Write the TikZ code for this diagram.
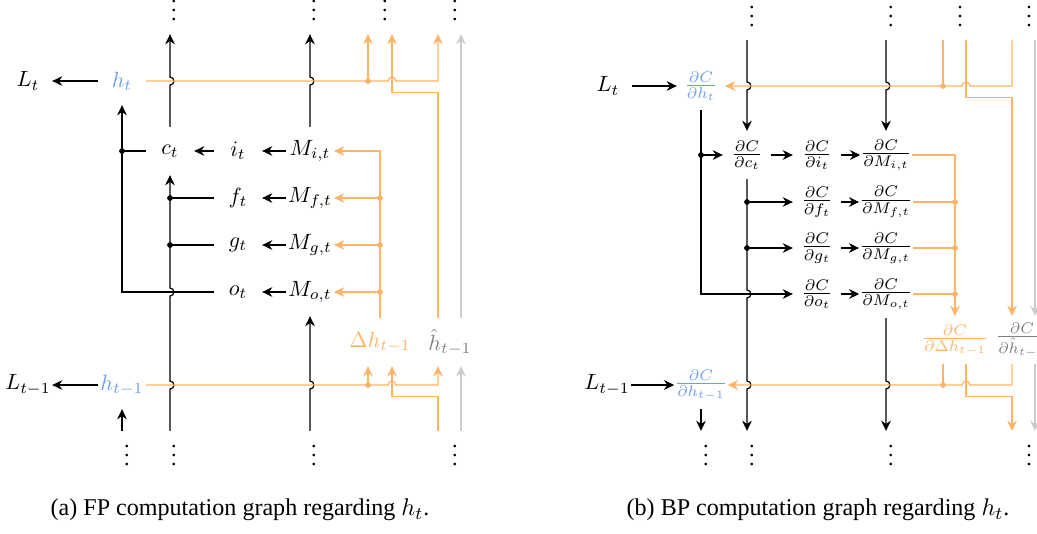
\documentclass[tikz,border=0pt]{standalone}
\usepackage{fontspec}
\setmainfont{Liberation Serif}
\usepackage{amsmath}
\usepackage{tikz}
\usetikzlibrary{arrows.meta, calc}
\definecolor{Orng}{HTML}{FFB366}
\definecolor{Blu}{HTML}{6D9EEB}
\definecolor{GrayLine}{HTML}{CCCCCC}
\definecolor{GrayText}{HTML}{808080}
\tikzset{
  cell/.style={minimum size=21.5pt, inner sep=0pt},
  vdts/.style={text height=9.1pt, text depth=0pt, minimum size=21.5pt, inner sep=0pt},
  jdot/.style={circle, fill, inner sep=0pt, minimum size=2.6pt},
  odot/.style={jdot, Orng},
  arr/.style={-{Stealth[length=4.6pt,width=4.4pt]}, line width=0.55pt},
  bLine/.style={line width=0.55pt},
  oLine/.style={line width=0.55pt, Orng},
  oArr/.style={arr, Orng},
  gArr/.style={arr, GrayLine},
  captxt/.style={font=\fontsize{10.9}{13}\selectfont},
  hopup/.style={insert path={-- ($(#1)+(0,4)$) arc[start angle=-90,end angle=90,radius=1.8pt]}},
  hopdn/.style={insert path={-- ($(#1)+(0,-4)$) arc[start angle=90,end angle=-90,radius=1.8pt]}},
  hopr/.style={insert path={-- ($(#1)+(-4,0)$) arc[start angle=180,end angle=0,radius=1.8pt]}},
  hopl/.style={insert path={-- ($(#1)+(4,0)$) arc[start angle=0,end angle=180,radius=1.8pt]}},
}

\begin{document}
\begin{tikzpicture}[x=0.453pt, y=-0.453pt]
\useasboundingbox (0,0) rectangle (1037,533);
\clip (0,0) rectangle (1037,533);

% ---------------- (a) FP graph ----------------
\node[cell] (Lt) at (28,81) {$L_t$};
\node[cell, text=Blu] (ht) at (122,81) {$h_t$};
\node[cell] (ct) at (170,151) {$c_t$};
\node[cell] (it) at (238,151) {$i_t$};
\node[cell] (Mi) at (310,151) {$M_{i,t}$};
\node[cell] (ft) at (238,198) {$f_t$};
\node[cell] (Mf) at (310,198) {$M_{f,t}$};
\node[cell] (gt) at (238,245) {$g_t$};
\node[cell] (Mg) at (310,245) {$M_{g,t}$};
\node[cell] (ot) at (238,292) {$o_t$};
\node[cell] (Mo) at (310,292) {$M_{o,t}$};
\node[cell, text=Orng] (dh) at (380,342) {$\Delta h_{t-1}$};
\node[cell, text=GrayText] (hh) at (450,342) {$\hat{h}_{t-1}$};
\node[cell] (Ltm) at (28,385) {$L_{t-1}$};
\node[cell, text=Blu] (htm) at (122,385) {$h_{t-1}$};

% dots
\node[vdts] (va1) at (174,10) {$\vdots$};
\node[vdts] (va2) at (314,10) {$\vdots$};
\node[vdts] (va3) at (385,10) {$\vdots$};
\node[vdts] (va4) at (455,10) {$\vdots$};
\node[vdts] (va5) at (127,455) {$\vdots$};
\node[vdts] (va6) at (174,455) {$\vdots$};
\node[vdts] (va7) at (314,455) {$\vdots$};
\node[vdts] (va8) at (455,455) {$\vdots$};

\coordinate (oa) at (368,0);
\coordinate (ob) at (392,0);
\coordinate (oc) at (438,0);
\coordinate (gd) at (461,0);

% black edges
\draw[arr] (ht) -- (Lt);
\draw[arr] (htm) -- (Ltm);
\draw[arr] (ot.west) -| (ht.south);
\draw[bLine] (ct.west) -- (ct.west -| ht) node[jdot]{};
\draw[arr] (it) -- (ct);
\draw[arr] (Mi) -- (it);
\draw[arr] (Mf) -- (ft);
\draw[arr] (Mg) -- (gt);
\draw[arr] (Mo) -- (ot);
\draw[bLine] (ft.west) -- (ft.west -| ct) node[jdot]{};
\draw[bLine] (gt.west) -- (gt.west -| ct) node[jdot]{};
\draw[arr] (ct |- va6.north) [hopup={htm -| ct}] [hopup={ot -| ct}] -- (ct.south);
\draw[arr] (ct.north) [hopup={ht -| ct}] -- (ct |- va1.south);
\draw[arr] (Mo |- va7.north) [hopup={htm -| Mo}] -- (Mo.south);
\draw[arr] (Mi.north) [hopup={ht -| Mi}] -- (Mi |- va2.south);
\draw[arr] (htm |- va5.north) -- (htm.south);

% orange / gray edges, row t
\draw[oArr] (ht.east) [hopr={ht -| ob}] -- (ht -| oc) -- (oc |- va3.south);
\draw[oArr] (ht -| oa) node[odot]{} -- (oa |- va3.south);
\draw[oArr] (oc |- hh.north) -- ($(ht -| oc)+(0,11.5)$) -| (ob |- va3.south);
\draw[gArr] (gd |- hh.north) -- (gd |- va4.south);

% orange into M
\draw[oArr] (dh.north) |- (Mi.east);
\draw[oArr] (dh |- Mf) node[odot]{} -- (Mf.east);
\draw[oArr] (dh |- Mg) node[odot]{} -- (Mg.east);
\draw[oArr] (dh |- Mo) node[odot]{} -- (Mo.east);

% orange / gray edges, row t-1
\draw[oArr] (htm.east) [hopr={htm -| ob}] -- (htm -| oc) -- (oc |- hh.south);
\draw[oArr] (htm -| oa) node[odot]{} -- (oa |- dh.south);
\draw[oArr] (oc |- va8.north) -- ($(htm -| oc)+(0,11.5)$) -| (ob |- dh.south);
\draw[gArr] (gd |- va8.north) -- (gd |- hh.south);

\node[captxt] (capa) at (240,510) {(a) FP computation graph regarding $h_t$.};

% ---------------- (b) BP graph ----------------
\node[cell] (RLt) at (608,86) {$L_t$};
\node[cell, text=Blu] (dht) at (701,86) {$\frac{\partial C}{\partial h_t}$};
\node[cell] (dct) at (747,155) {$\frac{\partial C}{\partial c_t}$};
\node[cell] (dit) at (817,155) {$\frac{\partial C}{\partial i_t}$};
\node[cell] (dMi) at (886,155) {$\frac{\partial C}{\partial M_{i,t}}$};
\node[cell] (dft) at (817,202) {$\frac{\partial C}{\partial f_t}$};
\node[cell] (dMf) at (886,202) {$\frac{\partial C}{\partial M_{f,t}}$};
\node[cell] (dgt) at (817,248) {$\frac{\partial C}{\partial g_t}$};
\node[cell] (dMg) at (886,248) {$\frac{\partial C}{\partial M_{g,t}}$};
\node[cell] (dot) at (817,294) {$\frac{\partial C}{\partial o_t}$};
\node[cell] (dMo) at (886,294) {$\frac{\partial C}{\partial M_{o,t}}$};
\node[cell, text=Orng] (ddh) at (955,340) {$\frac{\partial C}{\partial \Delta h_{t-1}}$};
\node[cell, text=GrayText] (dhh) at (1022,340) {$\frac{\partial C}{\partial \hat{h}_{t-1}}$};
\node[cell] (RLtm) at (607,385) {$L_{t-1}$};
\node[cell, text=Blu] (dhtm) at (701,385) {$\frac{\partial C}{\partial h_{t-1}}$};

% dots
\node[vdts] (vb1) at (752,16) {$\vdots$};
\node[vdts] (vb2) at (891,16) {$\vdots$};
\node[vdts] (vb3) at (960,16) {$\vdots$};
\node[vdts] (vb4) at (1029,16) {$\vdots$};
\node[vdts] (vb5) at (706,455) {$\vdots$};
\node[vdts] (vb6) at (752,455) {$\vdots$};
\node[vdts] (vb7) at (891,455) {$\vdots$};
\node[vdts] (vb8) at (1029,455) {$\vdots$};

\coordinate (ra) at (943,0);
\coordinate (rb) at (966,0);
\coordinate (rc) at (1012,0);
\coordinate (rd) at (1035,0);

% black edges
\draw[arr] (RLt) -- (dht);
\draw[arr] (RLtm) -- (dhtm);
\draw[arr] (dht.south) |- (dot.west);
\draw[arr] (dct -| dht) node[jdot]{} -- (dct.west);
\draw[arr] (dct) -- (dit);
\draw[arr] (dit) -- (dMi);
\draw[arr] (dft) -- (dMf);
\draw[arr] (dgt) -- (dMg);
\draw[arr] (dot) -- (dMo);
\draw[arr] (dft -| dct) node[jdot]{} -- (dft.west);
\draw[arr] (dgt -| dct) node[jdot]{} -- (dgt.west);
\draw[arr] (dct.south) [hopdn={dot -| dct}] [hopdn={dhtm -| dct}] -- (dct |- vb6.north);
\draw[arr] (dct |- vb1.south) [hopdn={dht -| dct}] -- (dct.north);
\draw[arr] (dMi |- vb2.south) [hopdn={dht -| dMi}] -- (dMi.north);
\draw[arr] (dMo.south) [hopdn={dhtm -| dMo}] -- (dMo |- vb7.north);
\draw[arr] (dhtm.south) -- (dhtm |- vb5.north);

% orange / gray edges, row t
\draw[oArr] (rc |- vb3.south) -- (dht -| rc) [hopl={dht -| rb}] -- (dht.east);
\draw[oLine] (ra |- vb3.south) -- (dht -| ra) node[odot]{};
\draw[oArr] (rb |- vb3.south) -- ($(dht -| rb)+(0,11.5)$) -| (rc |- dhh.north);
\draw[gArr] (rd |- vb3.south) -- (rd |- dhh.north);

% orange out of M
\draw[oArr] (dMi.east) -| (ddh.north);
\draw[oLine] (dMf.east) -- (dMf -| ddh) node[odot]{};
\draw[oLine] (dMg.east) -- (dMg -| ddh) node[odot]{};
\draw[oLine] (dMo.east) -- (dMo -| ddh) node[odot]{};

% orange / gray edges, row t-1
\draw[oArr] (rc |- dhh.south) -- (dhtm -| rc) [hopl={dhtm -| rb}] -- (dhtm.east);
\draw[oLine] (ra |- ddh.south) -- (dhtm -| ra) node[odot]{};
\draw[oArr] (rb |- ddh.south) -- ($(dhtm -| rb)+(0,11.5)$) -| (rc |- vb8.north);
\draw[gArr] (rd |- dhh.south) -- (rd |- vb8.north);

\node[captxt] (capb) at (818,510) {(b) BP computation graph regarding $h_t$.};

\end{tikzpicture}
\end{document}
